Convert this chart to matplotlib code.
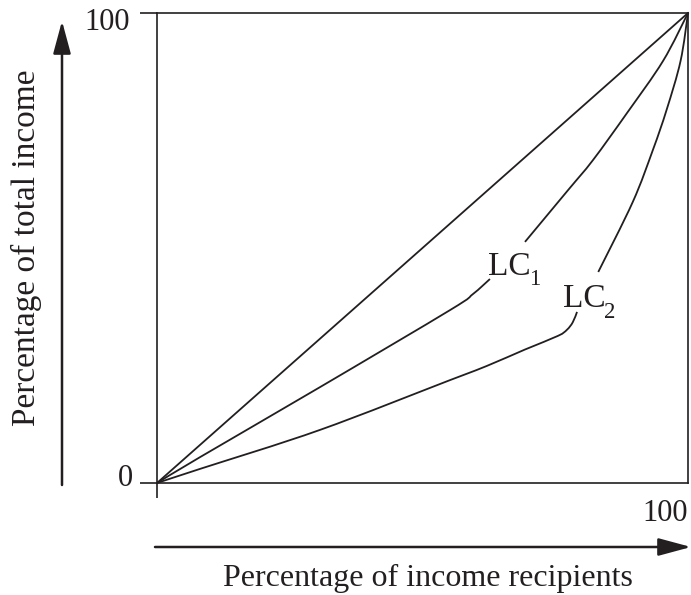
import numpy as np
import matplotlib.pyplot as plt
from matplotlib.path import Path
from matplotlib.patches import PathPatch

plt.rcParams['font.family'] = ['Liberation Serif', 'DejaVu Serif']

INK = '#231f20'

# line of equality
eq_x = [0, 100]
eq_y = [0, 100]

# LC1, drawn in two pieces around its label
lc1_low_x = [0, 8.1, 30.7, 55.2, 59.5, 62.7]
lc1_low_y = [0, 5.5, 20.4, 36.8, 40.2, 43.4]
lc1_up_x = [69.3, 77.4, 82.1, 88.5, 95.3, 100]
lc1_up_y = [51.3, 62.3, 68.7, 78.7, 89.8, 100]

# LC2, drawn in two pieces around its label
lc2_low_x = [0, 8.1, 30.7, 55.2, 62.1, 69.3, 75.5, 77.2, 78.3, 79.1]
lc2_low_y = [0, 3.0, 11.3, 21.9, 24.9, 28.4, 31.3, 32.6, 34.2, 36.4]
lc2_up_x = [83.1, 89.6, 93.4, 96.0, 98.6, 100]
lc2_up_y = [44.9, 59.8, 70.9, 79.5, 89.8, 100]


def smooth_path(xs, ys):
    # Catmull-Rom through the points, written as cubic Bezier pieces
    p = np.column_stack([xs, ys]).astype(float)
    q = np.vstack([p[:1], p, p[-1:]])
    verts = [p[0]]
    codes = [Path.MOVETO]
    for i in range(1, len(q) - 2):
        c1 = q[i] + (q[i + 1] - q[i - 1]) / 6
        c2 = q[i + 1] - (q[i + 2] - q[i]) / 6
        verts += [c1, c2, q[i + 1]]
        codes += [Path.CURVE4] * 3
    return Path(verts, codes)


fig = plt.figure(figsize=(6.91, 5.95), dpi=100)
W, H = 691, 595
ax = fig.add_axes([157 / W, (H - 483) / H, 531 / W, 470 / H])
ax.set_xlim(0, 100)
ax.set_ylim(0, 100)

lw = 1.3
ax.plot(eq_x, eq_y, color=INK, lw=lw, clip_on=False)
for xs, ys in [(lc1_low_x, lc1_low_y), (lc1_up_x, lc1_up_y),
               (lc2_low_x, lc2_low_y), (lc2_up_x, lc2_up_y)]:
    ax.add_patch(PathPatch(smooth_path(xs, ys), fill=False, edgecolor=INK,
                           lw=lw, clip_on=False, capstyle='butt'))

# curve labels with hand-placed subscripts
for (lx, ly), sub in [((62.3, 44.3), '1'), ((76.5, 37.4), '2')]:
    ax.text(lx, ly, 'LC', fontsize=24, color=INK, va='baseline')
    ax.annotate(sub, xy=(lx, ly), xytext=(29.5, -7.5), textcoords='offset points',
                fontsize=16.5, color=INK, va='baseline')

for s in ax.spines.values():
    s.set_linewidth(1.2)
    s.set_color(INK)

ax.set_xticks([0])
ax.set_yticks([0, 100])
ax.set_xticklabels([])
ax.set_yticklabels([])
ax.tick_params(axis='y', direction='out', length=12, width=1.2, color=INK)
ax.tick_params(axis='x', direction='out', length=11, width=1.2, color=INK)

# value labels
ax.text(-4.5, 1.0, '0', fontsize=22, color=INK, ha='right', va='center')
ax.text(-5.2, 98.0, '100', fontsize=22, color=INK, ha='right', va='center')
ax.text(100, -3.5, '100', fontsize=22, color=INK, ha='right', va='top')

# axis arrows
arrow = dict(arrowstyle='-|>,head_length=1.0,head_width=0.27',
             mutation_scale=20, lw=1.8, color=INK, shrinkA=0, shrinkB=0)
ax.annotate('', xy=(62, H - 21), xytext=(62, H - 485),
            xycoords='figure pixels', textcoords='figure pixels', arrowprops=arrow)
ax.annotate('', xy=(691, H - 547), xytext=(155, H - 547),
            xycoords='figure pixels', textcoords='figure pixels', arrowprops=arrow)

fig.text(428 / W, (H - 578) / H, 'Percentage of income recipients',
         fontsize=23, color=INK, ha='center', va='center')
fig.text(26 / W, (H - 248) / H, 'Percentage of total income',
         fontsize=24, color=INK, ha='center', va='center', rotation=90)

fig.savefig('out.png', dpi=100)
